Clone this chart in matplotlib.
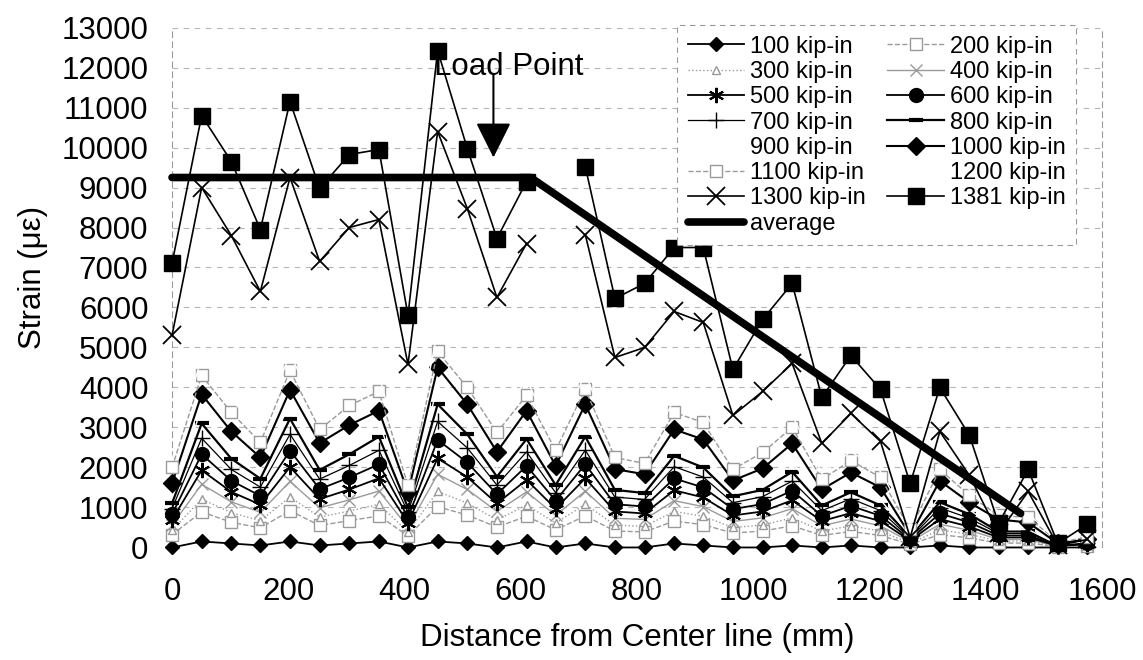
import numpy as np
import matplotlib.pyplot as plt

plt.rcParams['font.family'] = ['Liberation Sans', 'DejaVu Sans']

# Maalepunkt (mm), 2 tommar mellom kvar
x_mm = [0, 51, 102, 152, 203, 254, 305, 356, 406, 457, 508, 559, 610, 660, 711, 762,
        813, 864, 914, 965, 1016, 1067, 1118, 1168, 1219, 1270, 1321, 1372, 1422, 1473, 1524, 1575]

nan = np.nan
s100 = [0, 150, 100, 50, 150, 50, 100, 150, 0, 150, 100, 0, 150, 0, 100, 0,
        0, 100, 50, 0, 0, 50, 0, 50, 0, 0, 50, 0, 0, 0, 0, 0]
s200 = [320, 890, 630, 490, 920, 550, 670, 790, 290, 1020, 810, 510, 780, 440, 790, 410,
        390, 660, 570, 360, 410, 540, 300, 400, 300, 80, 320, 240, 110, 110, 20, 40]
s300 = [430, 1210, 870, 670, 1260, 760, 910, 1080, 390, 1400, 1110, 690, 1060, 610, 1080, 560,
        530, 900, 780, 500, 560, 740, 410, 540, 410, 100, 440, 330, 160, 160, 30, 50]
s400 = [560, 1580, 1140, 880, 1650, 990, 1190, 1410, 510, 1830, 1450, 900, 1390, 800, 1410, 730,
        700, 1170, 1020, 650, 740, 970, 540, 710, 540, 140, 580, 430, 200, 200, 30, 70]
s500 = [690, 1930, 1390, 1070, 2010, 1210, 1450, 1730, 620, 2230, 1760, 1100, 1690, 970, 1730, 900,
        850, 1430, 1250, 800, 900, 1180, 660, 860, 660, 170, 710, 520, 250, 250, 40, 80]
s600 = [830, 2330, 1670, 1290, 2420, 1460, 1750, 2080, 750, 2690, 2125, 1330, 2040, 1170, 2080, 1080,
        1025, 1725, 1500, 960, 1085, 1420, 790, 1040, 790, 200, 850, 625, 300, 300, 50, 100]
s700 = [970, 2730, 1950, 1510, 2830, 1710, 2050, 2430, 880, 3150, 2490, 1560, 2390, 1370, 2430, 1260,
        1200, 2020, 1760, 1120, 1270, 1660, 920, 1220, 920, 230, 990, 730, 350, 350, 60, 120]
s800 = [1100, 3100, 2220, 1720, 3220, 1940, 2330, 2770, 1000, 3580, 2830, 1770, 2710, 1560, 2770, 1440,
        1360, 2290, 2000, 1280, 1440, 1890, 1050, 1380, 1050, 270, 1130, 830, 400, 400, 70, 130]
s900 = [1250, 3500, 2500, 1940, 3630, 2190, 2630, 3120, 1130, 4040, 3190, 2000, 3060, 1760, 3120, 1620,
        1540, 2590, 2250, 1440, 1630, 2130, 1190, 1560, 1190, 300, 1280, 940, 450, 450, 80, 150]
s1000 = [1600, 3830, 2900, 2250, 3940, 2610, 3060, 3420, 1375, 4500, 3580, 2390, 3420, 2040, 3580, 1960,
         1830, 2950, 2700, 1675, 1975, 2600, 1450, 1875, 1500, 300, 1665, 1125, 700, 625, 100, 200]
s1100 = [2000, 4300, 3375, 2625, 4425, 2950, 3550, 3900, 1550, 4900, 4000, 2875, 3800, 2425, 3960, 2250,
         2100, 3375, 3125, 1950, 2375, 3000, 1700, 2175, 1750, 450, 1950, 1300, 800, 750, 150, 250]
s1200 = [2200, 4750, 3700, 2900, 4850, 3250, 3900, 4300, 1700, 5400, 4400, 3150, 4200, 2650, 4350, 2500,
         2300, 3700, 3450, 2150, 2600, 3300, 1850, 2400, 1900, 550, 2150, 1450, 900, 850, 150, 300]
s1300 = [5300, 9000, 7800, 6400, 9250, 7150, 8000, 8200, 4575, 10400, 8475, 6250, 7600, nan, 7825, 4750,
         5000, 5900, 5625, 3300, 3900, 4600, 2600, 3350, 2650, 250, 2900, 1800, 350, 1400, 50, 200]
s1381 = [7100, 10800, 9650, 7950, 11150, 8975, 9825, 9950, 5800, 12425, 9975, 7725, 9150, nan, 9525, 6225,
         6600, 7500, 7500, 4450, 5700, 6600, 3750, 4800, 3950, 1600, 4000, 2800, 600, 1950, 100, 580]

# Gjennomsnittslinje
avg_x = [0, 617, 1460]
avg_y = [9250, 9250, 850]

fig = plt.figure(figsize=(11.43, 6.6), dpi=100)
ax = fig.add_axes([0.1505, 0.1705, 0.8136, 0.7878])

grey = '#9a9a9a'
serier = [
    ('100 kip-in', s100, dict(color='k', lw=1.3, marker='D', ms=7, mfc='k')),
    ('200 kip-in', s200, dict(color=grey, lw=1.0, ls='--', marker='s', ms=8, mfc='white', mec=grey)),
    ('300 kip-in', s300, dict(color=grey, lw=1.0, ls=':', marker='^', ms=6, mfc='white', mec=grey)),
    ('400 kip-in', s400, dict(color=grey, lw=1.0, marker='x', ms=8, mec=grey)),
    ('500 kip-in', s500, dict(color='k', lw=1.3, marker=(6, 2, 0), ms=11, mew=1.5)),
    ('600 kip-in', s600, dict(color='k', lw=1.3, marker='o', ms=10, mfc='k')),
    ('700 kip-in', s700, dict(color='k', lw=0.9, marker='+', ms=12, mew=1.0)),
    ('800 kip-in', s800, dict(color='k', lw=1.6, marker='_', ms=10, mew=3)),
    ('900 kip-in', s900, dict(color='white', lw=1.0)),
    ('1000 kip-in', s1000, dict(color='k', lw=1.5, marker='D', ms=9, mfc='k')),
    ('1100 kip-in', s1100, dict(color=grey, lw=1.0, ls='--', marker='s', ms=9, mfc='white', mec=grey)),
    ('1200 kip-in', s1200, dict(color='white', lw=1.0)),
    ('1300 kip-in', s1300, dict(color='k', lw=1.2, marker='x', ms=13, mew=1.3)),
    ('1381 kip-in', s1381, dict(color='k', lw=1.2, marker='s', ms=11, mfc='k')),
]

handles = {}
for i, (namn, verdiar, stil) in enumerate(serier):
    h, = ax.plot(x_mm, verdiar, label=namn, clip_on=False, zorder=3 + i * 0.1, **stil)
    handles[namn] = h
h_avg, = ax.plot(avg_x, avg_y, color='k', lw=5.5, solid_capstyle='round', label='average',
                 zorder=5, clip_on=False)

# Lastpunkt
ax.annotate('', xy=(553, 9750), xytext=(553, 11825),
            arrowprops=dict(arrowstyle='-|>,head_length=1.1,head_width=0.55', lw=1.5,
                            color='k', mutation_scale=20, shrinkA=0, shrinkB=0), zorder=6)
ax.text(579, 11825, 'Load Point', ha='center', va='baseline', fontsize=22.5, zorder=6)

ax.set_xlim(0, 1600)
ax.set_ylim(0, 13000)
ax.set_xticks(np.arange(0, 1601, 200))
ax.set_yticks(np.arange(0, 13001, 1000))
ax.tick_params(axis='both', length=0, labelsize=22.5)
ax.tick_params(axis='x', pad=21)
ax.tick_params(axis='y', pad=17)
ax.yaxis.grid(True, color='#b5b5b5', ls=(0, (5, 5)), lw=0.8)
ax.set_axisbelow(True)
for side in ['top', 'bottom']:
    ax.spines[side].set_visible(False)
for side in ['left', 'right']:
    ax.spines[side].set_color('#999999')
    ax.spines[side].set_linestyle((0, (5, 4)))
    ax.spines[side].set_linewidth(0.8)

ax.set_xlabel('Distance from Center line (mm)', fontsize=22.5)
ax.set_ylabel('Strain (\u03bc\u03b5)', fontsize=22.5)
ax.xaxis.set_label_coords(0.5, -0.145)
ax.yaxis.set_label_coords(-0.133, 0.52)

# Forklaring, rad for rad som i originalen
rekkje = ['100 kip-in', '300 kip-in', '500 kip-in', '700 kip-in', '900 kip-in', '1100 kip-in',
          '1300 kip-in', 'average', '200 kip-in', '400 kip-in', '600 kip-in', '800 kip-in',
          '1000 kip-in', '1200 kip-in', '1381 kip-in']
handles['average'] = h_avg
leg = fig.legend([handles[n] for n in rekkje], rekkje, ncol=2, loc='upper left',
                 bbox_to_anchor=(677 / 1143, 1 - 25 / 660), borderaxespad=0, fontsize=17,
                 handlelength=2.4, handletextpad=0.25, columnspacing=0.9, labelspacing=0.14,
                 borderpad=0.45, fancybox=False, framealpha=1, edgecolor='#999999', numpoints=1)
leg.get_frame().set_linestyle((0, (5, 4)))
leg.get_frame().set_linewidth(0.8)

fig.savefig('out.png', dpi=100)
